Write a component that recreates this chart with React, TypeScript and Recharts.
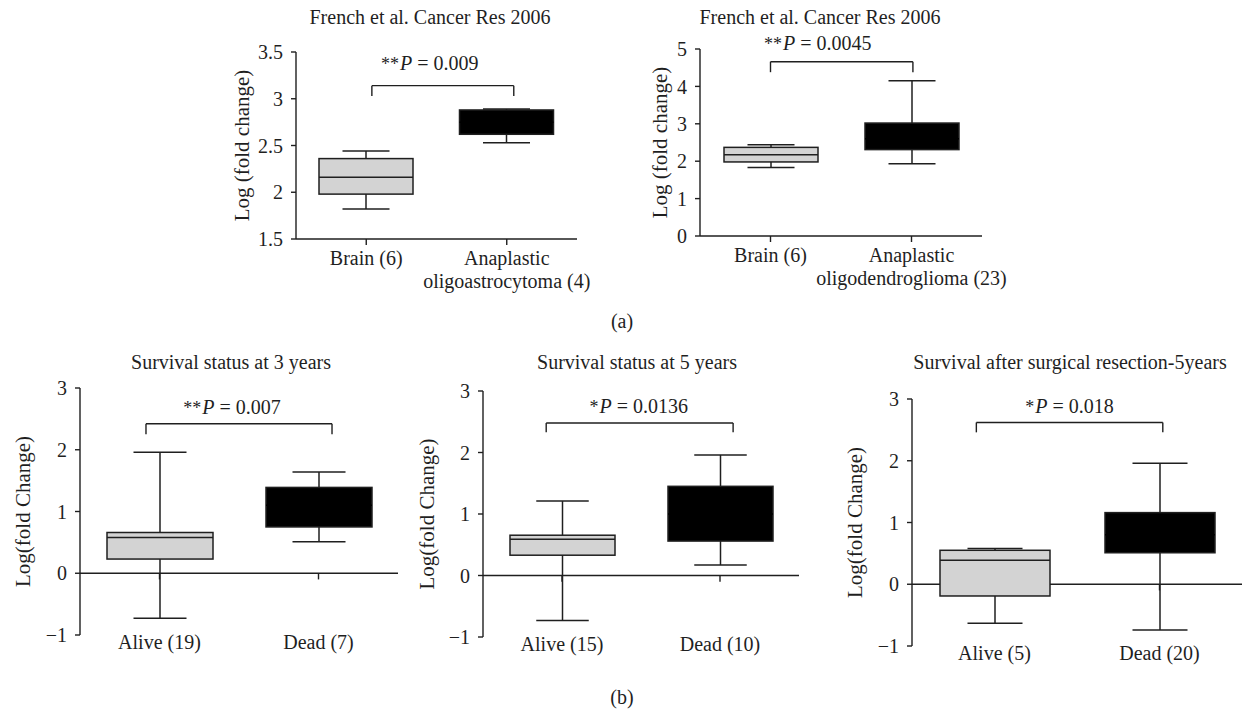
import React from "react";
import { ComposedChart, Bar, XAxis, YAxis, ReferenceLine } from "recharts";

const FONT = '"Liberation Serif", "DejaVu Serif", serif';
const INK = "#1f1f1f";
const GREY = "#d3d3d3";

// (a) left: French et al. 2006, oligoastrocytoma
const a1Groups = ["Brain (6)", "Anaplastic\noligoastrocytoma (4)"];
const a1Min = [1.82, 2.53];
const a1Q1 = [1.98, 2.62];
const a1Med = [2.16, 2.75];
const a1Q3 = [2.36, 2.88];
const a1Max = [2.44, 2.89];
const a1Ticks = [1.5, 2, 2.5, 3, 3.5];
const a1BracketX = [0.54, 1.55];
const a1BracketY = [3.14, 3.03];

// (a) right: French et al. 2006, oligodendroglioma
const a2Groups = ["Brain (6)", "Anaplastic\noligodendroglioma (23)"];
const a2Min = [1.83, 1.93];
const a2Q1 = [1.98, 2.31];
const a2Med = [2.17, 2.6];
const a2Q3 = [2.37, 3.02];
const a2Max = [2.44, 4.15];
const a2Ticks = [0, 1, 2, 3, 4, 5];
const a2BracketX = [0.5, 1.51];
const a2BracketY = [4.66, 4.38];

// (b) survival at 3 years
const b1Groups = ["Alive (19)", "Dead (7)"];
const b1Min = [-0.73, 0.51];
const b1Q1 = [0.23, 0.75];
const b1Med = [0.58, 1.1];
const b1Q3 = [0.66, 1.39];
const b1Max = [1.96, 1.64];
const b1BracketX = [0.415, 1.585];
const b1BracketY = [2.42, 2.25];

// (b) survival at 5 years
const b2Groups = ["Alive (15)", "Dead (10)"];
const b2Min = [-0.73, 0.17];
const b2Q1 = [0.33, 0.56];
const b2Med = [0.59, 1.0];
const b2Q3 = [0.655, 1.45];
const b2Max = [1.21, 1.96];
const b2BracketX = [0.4, 1.583];
const b2BracketY = [2.48, 2.33];

// (b) survival after surgical resection
const b3Groups = ["Alive (5)", "Dead (20)"];
const b3Min = [-0.63, -0.74];
const b3Q1 = [-0.19, 0.51];
const b3Med = [0.39, 0.8];
const b3Q3 = [0.55, 1.16];
const b3Max = [0.58, 1.96];
const b3BracketX = [0.39, 1.52];
const b3BracketY = [2.62, 2.46];

const bTicks = [-1, 0, 1, 2, 3];

const pStars = ["**", "**", "**", "*", "*"];
const pValues = ["0.009", "0.0045", "0.007", "0.0136", "0.018"];
const panelTitles = [
  "French et al. Cancer Res 2006",
  "French et al. Cancer Res 2006",
  "Survival status at 3 years",
  "Survival status at 5 years",
  "Survival after surgical resection-5years",
];

const toRows = (
  groups: string[],
  min: number[],
  q1: number[],
  med: number[],
  q3: number[],
  max: number[]
) =>
  groups.map((name, i) => ({
    name,
    slot: i + 0.5,
    min: min[i],
    q1: q1[i],
    med: med[i],
    q3: q3[i],
    max: max[i],
    range: [min[i], max[i]],
  }));

function BoxShape(props: any) {
  const { x, y, width, height, payload, index } = props;
  const { min, q1, med, q3, max } = payload;
  const top = Math.min(y, y + height);
  const h = Math.abs(height);
  const py = (v: number) => top + ((max - v) / (max - min)) * h;
  const cx = x + width / 2;
  const cap = width / 4;
  const fill = index === 0 ? GREY : "#000";
  const sw = 1.5;
  return (
    <g>
      <line x1={cx} x2={cx} y1={py(max)} y2={py(min)} stroke={INK} strokeWidth={sw} />
      <line x1={cx - cap} x2={cx + cap} y1={py(max)} y2={py(max)} stroke={INK} strokeWidth={sw} />
      <line x1={cx - cap} x2={cx + cap} y1={py(min)} y2={py(min)} stroke={INK} strokeWidth={sw} />
      <rect x={x} y={py(q3)} width={width} height={py(q1) - py(q3)} fill={fill} stroke={INK} strokeWidth={sw} />
      <line
        x1={x}
        x2={x + width}
        y1={py(med)}
        y2={py(med)}
        stroke={index === 0 ? INK : fill}
        strokeWidth={sw}
      />
    </g>
  );
}

function CatTick(props: any) {
  const { x, y, payload, base } = props;
  const lines = String(payload.value).split("\n");
  return (
    <text x={x} y={y + base} textAnchor="middle" fontFamily={FONT} fontSize={20} fill={INK}>
      {lines.map((l, i) => (
        <tspan key={i} x={x} dy={i === 0 ? 0 : 23}>
          {l}
        </tspan>
      ))}
    </text>
  );
}

type PanelProps = {
  left: number;
  top: number;
  plotW: number;
  plotH: number;
  yW: number;
  mt: number;
  mr: number;
  xH: number;
  rows: any[];
  domain: [number, number];
  ticks: number[];
  yLabel: string;
  yLabelDist: number;
  boxW: number;
  bracketX: number[];
  bracketY: number[];
  stars: string;
  pValue: string;
  pDx: number;
  pGap: number;
  zeroAxis: boolean;
};

function Panel(p: PanelProps) {
  const width = p.plotW + p.yW + p.mr;
  const height = p.plotH + p.mt + p.xH;
  const lineProps = { stroke: INK, strokeWidth: 1.4, xAxisId: "n", ifOverflow: "visible" as const };
  const pLabel = (lp: any) => {
    const vb = lp.viewBox || {};
    const cx = (vb.x ?? 0) + (vb.width ?? 0) / 2 + p.pDx;
    const cy = (vb.y ?? 0) - p.pGap;
    return (
      <text x={cx} y={cy} textAnchor="middle" fontFamily={FONT} fontSize={20} fill={INK}>
        <tspan fontSize={18}>{p.stars}</tspan>
        <tspan fontStyle="italic" dx={1}>P</tspan>
        <tspan>{" = " + p.pValue}</tspan>
      </text>
    );
  };
  return (
    <div style={{ position: "absolute", left: p.left - p.yW, top: p.top - p.mt }}>
      <ComposedChart
        width={width}
        height={height}
        data={p.rows}
        margin={{ top: p.mt, right: p.mr, left: 0, bottom: 0 }}
      >
        <XAxis
          dataKey="name"
          height={p.xH}
          axisLine={p.zeroAxis ? false : { stroke: INK, strokeWidth: 1.4 }}
          tickLine={p.zeroAxis ? false : { stroke: INK, strokeWidth: 1.4 }}
          tickSize={p.zeroAxis ? 0 : 6}
          tickMargin={0}
          interval={0}
          tick={(tp: any) => <CatTick {...tp} base={p.zeroAxis ? 14 : 20} />}
        />
        <XAxis xAxisId="n" dataKey="slot" type="number" domain={[0, 2]} allowDataOverflow hide />
        <YAxis
          width={p.yW}
          domain={p.domain}
          ticks={p.ticks}
          interval={0}
          axisLine={{ stroke: INK, strokeWidth: 1.4 }}
          tickLine={{ stroke: INK, strokeWidth: 1.4 }}
          tickSize={5}
          tickMargin={8}
          tick={{ fontFamily: FONT, fontSize: 20, fill: INK }}
          tickFormatter={(v: number) => String(v).replace("-", "\u2212")}
          label={{
            value: p.yLabel,
            angle: -90,
            position: "insideLeft",
            offset: p.yW - p.yLabelDist,
            style: { textAnchor: "middle", fontFamily: FONT, fontSize: 21, fill: INK },
          }}
        />
        {p.zeroAxis && <ReferenceLine y={0} stroke={INK} strokeWidth={1.4} zIndex={100} />}
        {p.zeroAxis &&
          [0.5, 1.5].map((t) => (
            <ReferenceLine
              key={t}
              {...lineProps}
              zIndex={100}
              segment={[
                { x: t, y: 0 },
                { x: t, y: -0.1 },
              ]}
            />
          ))}
        <Bar dataKey="range" barSize={p.boxW} shape={<BoxShape />} isAnimationActive={false} />
        <ReferenceLine
          {...lineProps}
          segment={[
            { x: p.bracketX[0], y: p.bracketY[1] },
            { x: p.bracketX[0], y: p.bracketY[0] },
          ]}
        />
        <ReferenceLine
          {...lineProps}
          segment={[
            { x: p.bracketX[0], y: p.bracketY[0] },
            { x: p.bracketX[1], y: p.bracketY[0] },
          ]}
          label={{ content: pLabel }}
        />
        <ReferenceLine
          {...lineProps}
          segment={[
            { x: p.bracketX[1], y: p.bracketY[0] },
            { x: p.bracketX[1], y: p.bracketY[1] },
          ]}
        />
      </ComposedChart>
    </div>
  );
}

const titlePos = [
  { x: 430, y: 24 },
  { x: 820, y: 24 },
  { x: 231, y: 369 },
  { x: 637, y: 369 },
  { x: 1070, y: 369 },
];

export default function App() {
  return (
    <div
      style={{
        position: "absolute",
        left: 0,
        top: 0,
        width: 1242,
        height: 710,
        background: "#fff",
        overflow: "hidden",
      }}
    >
      <Panel
        left={296} top={52} plotW={281} plotH={187} yW={75} mt={50} mr={30} xH={60}
        rows={toRows(a1Groups, a1Min, a1Q1, a1Med, a1Q3, a1Max)}
        domain={[1.5, 3.5]} ticks={a1Ticks}
        yLabel="Log (fold change)" yLabelDist={54} boxW={94}
        bracketX={a1BracketX} bracketY={a1BracketY}
        stars={pStars[0]} pValue={pValues[0]} pDx={-13} pGap={16} zeroAxis={false}
      />
      <Panel
        left={700} top={49} plotW={282} plotH={187} yW={60} mt={45} mr={50} xH={60}
        rows={toRows(a2Groups, a2Min, a2Q1, a2Med, a2Q3, a2Max)}
        domain={[0, 5]} ticks={a2Ticks}
        yLabel="Log (fold change)" yLabelDist={40} boxW={94}
        bracketX={a2BracketX} bracketY={a2BracketY}
        stars={pStars[1]} pValue={pValues[1]} pDx={-24} pGap={12} zeroAxis={false}
      />
      <Panel
        left={80} top={388} plotW={318} plotH={247} yW={75} mt={40} mr={5} xH={30}
        rows={toRows(b1Groups, b1Min, b1Q1, b1Med, b1Q3, b1Max)}
        domain={[-1, 3]} ticks={bTicks}
        yLabel="Log(fold Change)" yLabelDist={57} boxW={106}
        bracketX={b1BracketX} bracketY={b1BracketY}
        stars={pStars[2]} pValue={pValues[2]} pDx={-7} pGap={9.5} zeroAxis={true}
      />
      <Panel
        left={483} top={391} plotW={316} plotH={246} yW={75} mt={40} mr={5} xH={30}
        rows={toRows(b2Groups, b2Min, b2Q1, b2Med, b2Q3, b2Max)}
        domain={[-1, 3]} ticks={bTicks}
        yLabel="Log(fold Change)" yLabelDist={56} boxW={105}
        bracketX={b2BracketX} bracketY={b2BracketY}
        stars={pStars[3]} pValue={pValues[3]} pDx={-1} pGap={9.5} zeroAxis={true}
      />
      <Panel
        left={912} top={399} plotW={330} plotH={247} yW={75} mt={40} mr={0} xH={30}
        rows={toRows(b3Groups, b3Min, b3Q1, b3Med, b3Q3, b3Max)}
        domain={[-1, 3]} ticks={bTicks}
        yLabel="Log(fold Change)" yLabelDist={57} boxW={110}
        bracketX={b3BracketX} bracketY={b3BracketY}
        stars={pStars[4]} pValue={pValues[4]} pDx={0} pGap={9.5} zeroAxis={true}
      />
      <svg
        width={1242}
        height={710}
        style={{ position: "absolute", left: 0, top: 0, pointerEvents: "none" }}
      >
        {panelTitles.map((t, i) => (
          <text
            key={i}
            x={titlePos[i].x}
            y={titlePos[i].y}
            textAnchor="middle"
            fontFamily={FONT}
            fontSize={20}
            fill={INK}
          >
            {t}
          </text>
        ))}
        <text x={622} y={328} textAnchor="middle" fontFamily={FONT} fontSize={20} fill={INK}>
          (a)
        </text>
        <text x={622} y={704} textAnchor="middle" fontFamily={FONT} fontSize={20} fill={INK}>
          (b)
        </text>
      </svg>
    </div>
  );
}
